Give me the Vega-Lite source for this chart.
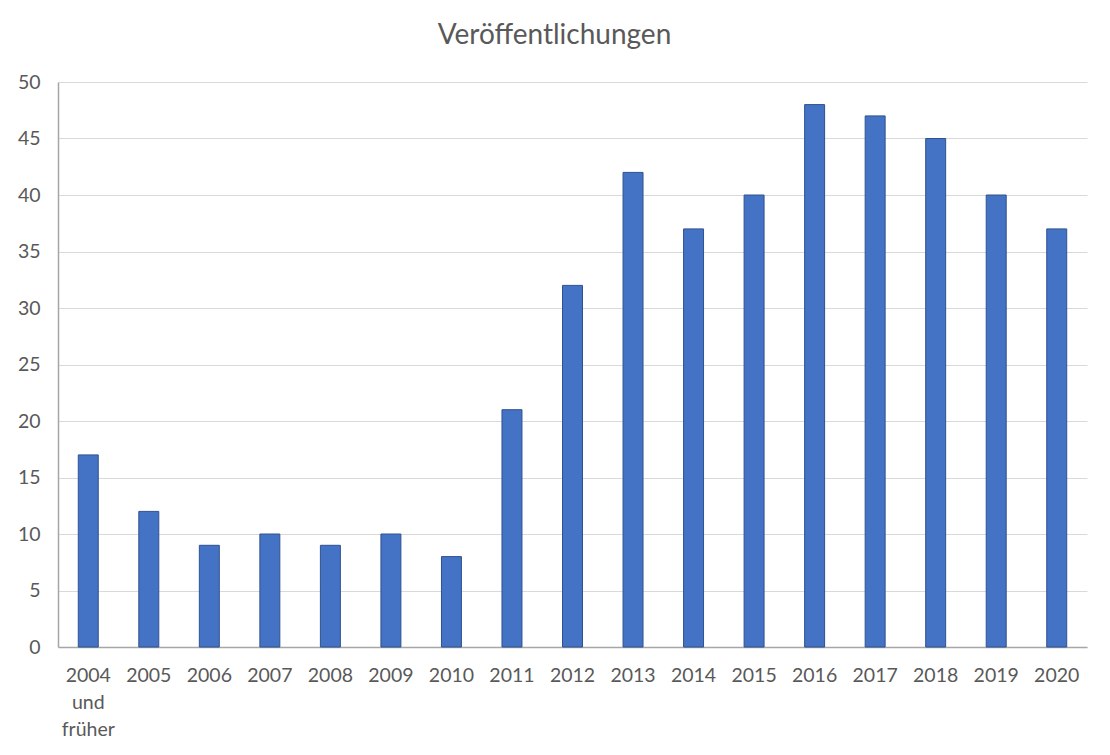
{
  "$schema": "https://vega.github.io/schema/vega-lite/v6.json",
  "autosize": "none",
  "padding": {"left": 58, "top": 82, "right": 23, "bottom": 108},
  "width": 1029,
  "height": 565,
  "background": "#ffffff",
  "title": {
    "text": "Veröffentlichungen",
    "font": "Lato",
    "fontSize": 28,
    "fontWeight": "normal",
    "color": "#595959",
    "anchor": "middle",
    "dx": -18,
    "offset": 22
  },
  "data": {
    "values": [
      {"Jahr": "2004 und früher", "Anzahl": 17},
      {"Jahr": "2005", "Anzahl": 12},
      {"Jahr": "2006", "Anzahl": 9},
      {"Jahr": "2007", "Anzahl": 10},
      {"Jahr": "2008", "Anzahl": 9},
      {"Jahr": "2009", "Anzahl": 10},
      {"Jahr": "2010", "Anzahl": 8},
      {"Jahr": "2011", "Anzahl": 21},
      {"Jahr": "2012", "Anzahl": 32},
      {"Jahr": "2013", "Anzahl": 42},
      {"Jahr": "2014", "Anzahl": 37},
      {"Jahr": "2015", "Anzahl": 40},
      {"Jahr": "2016", "Anzahl": 48},
      {"Jahr": "2017", "Anzahl": 47},
      {"Jahr": "2018", "Anzahl": 45},
      {"Jahr": "2019", "Anzahl": 40},
      {"Jahr": "2020", "Anzahl": 37}
    ]
  },
  "mark": {"type": "bar", "color": "#4472C4", "stroke": "#2F528F", "strokeWidth": 1},
  "encoding": {
    "x": {
      "field": "Jahr",
      "type": "nominal",
      "sort": null,
      "title": null,
      "scale": {"paddingInner": 0.67, "paddingOuter": 0.335},
      "axis": {
        "labelAngle": 0,
        "labelExpr": "datum.label == '2004 und früher' ? ['2004', 'und', 'früher'] : datum.label",
        "labelLineHeight": 27,
        "labelPadding": 19,
        "ticks": false,
        "domainColor": "#A6A6A6",
        "domainWidth": 1.5
      }
    },
    "y": {
      "field": "Anzahl",
      "type": "quantitative",
      "title": null,
      "scale": {"domain": [0, 50]},
      "axis": {
        "values": [0, 5, 10, 15, 20, 25, 30, 35, 40, 45, 50],
        "labelPadding": 18,
        "ticks": false,
        "domainColor": "#A6A6A6",
        "domainWidth": 1.5,
        "gridColor": "#D9D9D9",
        "gridWidth": 1.2
      }
    }
  },
  "config": {
    "view": {"stroke": null},
    "axis": {
      "labelFont": "Lato",
      "labelFontSize": 19.5,
      "labelColor": "#595959"
    }
  }
}
